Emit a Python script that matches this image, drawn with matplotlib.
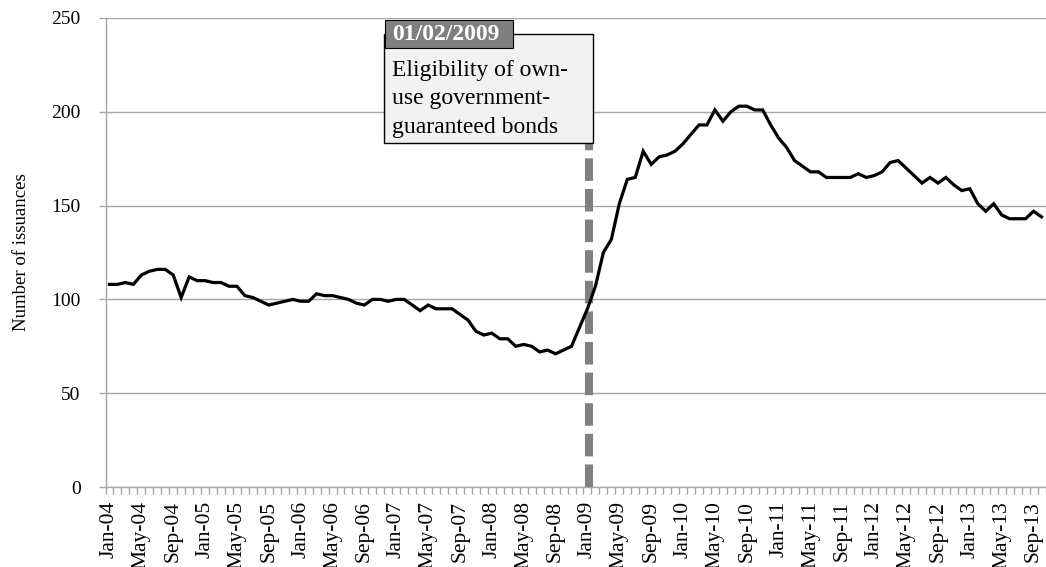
import matplotlib
matplotlib.use('Agg')
import matplotlib.pyplot as plt
import pandas as pd
from matplotlib.patches import Rectangle

# --- data: monthly number of issuances, Jan-2004 .. Oct-2013 ---
months = pd.date_range('2004-01-01', periods=118, freq='MS')
month_labels = [d.strftime('%b-%y') for d in months]

issuances = [
    108, 108, 109, 108, 113, 115, 116, 116, 113, 101, 112, 110,   # 2004
    110, 109, 109, 107, 107, 102, 101, 99, 97, 98, 99, 100,       # 2005
    99, 99, 103, 102, 102, 101, 100, 98, 97, 100, 100, 99,        # 2006
    100, 100, 97, 94, 97, 95, 95, 95, 92, 89, 83, 81,             # 2007
    82, 79, 79, 75, 76, 75, 72, 73, 71, 73, 75, 85,               # 2008
    95, 107, 125, 132, 151, 164, 165, 179, 172, 176,              # 2009
    177, 179, 183, 188, 193, 193, 201, 195, 200, 203, 203, 201,
    201, 193, 186, 181, 174, 171, 168, 168, 165, 165, 165, 165,   # 2011
    167, 165, 166, 168, 173, 174, 170, 166, 162, 165, 162, 165,   # 2012
    161, 158, 159, 151, 147, 151, 145, 143, 143, 143, 147, 144,   # 2013
]

event_index = 60  # Jan-09
event_date = '01/02/2009'
event_text = 'Eligibility of own-\nuse government-\nguaranteed bonds'

plt.rcParams['font.family'] = ['Liberation Serif', 'DejaVu Serif']

fig = plt.figure(figsize=(10.46, 5.67), dpi=100)
ax = fig.add_axes([105.5 / 1046, 80 / 567, 940 / 1046, 469 / 567])

x = list(range(len(issuances)))
grey = '#a6a6a6'

ax.plot(x, issuances, color='black', lw=2.3, zorder=3, solid_joinstyle='miter')

# event marker (dashed vertical) and its callout box
ax.plot([event_index + 0.2, event_index + 0.2], [0, 184], color='#808080', lw=5.8,
        linestyle=(0, (2.8, 1.0)), dash_capstyle='butt', zorder=2, clip_on=False)

box = Rectangle((34.45, 183.4), 26.25, 58.1, facecolor='#f2f2f2', edgecolor='black',
                lw=1.0, zorder=5, clip_on=False)
ax.add_patch(box)
head = Rectangle((34.6, 234.0), 16.05, 15.0, facecolor='#7f7f7f', edgecolor='black',
                 lw=0.8, zorder=6, clip_on=False)
ax.add_patch(head)
ax.text(35.5, 241.4, event_date, color='white', fontsize=17, fontweight='bold',
        va='center', ha='left', zorder=7)
ax.text(35.5, 207.0, event_text, color='black', fontsize=17, va='center', ha='left',
        linespacing=1.46, zorder=7)

# axes
ax.set_xlim(-0.5, len(issuances) - 0.5)
ax.set_ylim(0, 250)
ax.set_yticks(range(0, 251, 50))
ax.grid(axis='y', color=grey, lw=1.0)
ax.set_axisbelow(True)

ax.set_xticks(x[::4])
ax.set_xticklabels(month_labels[::4], rotation=90, fontsize=15.5)
ax.set_xticks([i - 0.5 for i in range(len(issuances) + 1)], minor=True)
ax.tick_params(axis='x', which='major', length=0, pad=10)
ax.tick_params(axis='x', which='minor', length=5, color=grey, width=1)
ax.tick_params(axis='y', length=5, color=grey, width=1, labelsize=14, pad=13)

ax.set_ylabel('Number of issuances', fontsize=13.5, labelpad=15)

for side in ['top', 'right']:
    ax.spines[side].set_visible(False)
for side in ['left', 'bottom']:
    ax.spines[side].set_color(grey)
    ax.spines[side].set_linewidth(1.0)

fig.savefig('out.png', dpi=100)
